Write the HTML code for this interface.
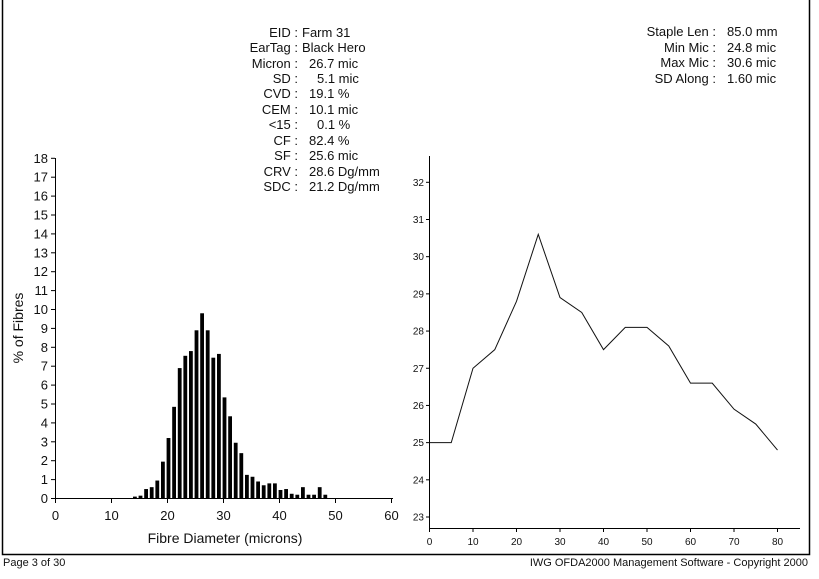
<!DOCTYPE html>
<html><head><meta charset="utf-8"><style>
body{margin:0;background:#fff;}
svg{display:block;font-family:"Liberation Sans",sans-serif;}
</style></head><body>
<svg width="819" height="579" viewBox="0 0 819 579" xmlns="http://www.w3.org/2000/svg">
<rect width="819" height="579" fill="#fff"/>
<polyline points="2.5,0 2.5,554.5 809.5,554.5 809.5,0" fill="none" stroke="#000" stroke-width="1.5"/>
<g font-size="13" fill="#111">
<g text-anchor="end">
<text x="298" y="37">EID :</text><text x="298" y="52">EarTag :</text><text x="298" y="68">Micron :</text>
<text x="298" y="83">SD :</text><text x="298" y="98">CVD :</text><text x="298" y="114">CEM :</text>
<text x="298" y="129">&lt;15 :</text><text x="298" y="145">CF :</text><text x="298" y="160">SF :</text>
<text x="298" y="176">CRV :</text><text x="298" y="191">SDC :</text>
</g>
<text x="302" y="37">Farm 31</text><text x="302" y="52">Black Hero</text><text x="309" y="68">26.7 mic</text>
<text x="317" y="83">5.1 mic</text><text x="309" y="98">19.1 %</text><text x="309" y="114">10.1 mic</text>
<text x="317" y="129">0.1 %</text><text x="309" y="145">82.4 %</text><text x="309" y="160">25.6 mic</text>
<text x="309" y="176">28.6 Dg/mm</text><text x="309" y="191">21.2 Dg/mm</text>
<g text-anchor="end">
<text x="716" y="36">Staple Len :</text><text x="716" y="52">Min Mic :</text>
<text x="716" y="67">Max Mic :</text><text x="716" y="83">SD Along :</text>
</g>
<text x="727" y="36">85.0 mm</text><text x="727" y="52">24.8 mic</text>
<text x="727" y="67">30.6 mic</text><text x="727" y="83">1.60 mic</text>
</g>
<!-- histogram -->
<g stroke="#000" stroke-width="1">
<line x1="55.5" y1="158" x2="55.5" y2="498.5"/>
<line x1="55" y1="498.5" x2="393" y2="498.5"/>
</g>
<g id="hist"></g>
<g id="yt" font-size="13" text-anchor="end" fill="#111"></g>
<g id="xt" font-size="13" text-anchor="middle" fill="#111"></g>
<text x="225" y="543" font-size="14" text-anchor="middle" fill="#111">Fibre Diameter (microns)</text>
<text transform="translate(23,328) rotate(-90)" font-size="14" text-anchor="middle" fill="#111">% of Fibres</text>
<!-- right chart -->
<g stroke="#000" stroke-width="1">
<line x1="429.5" y1="156" x2="429.5" y2="528.5"/>
<line x1="429" y1="528.5" x2="800" y2="528.5"/>
</g>
<g id="r"></g>
<text x="3" y="566" font-size="11" fill="#111">Page 3 of 30</text>
<text x="808" y="566" font-size="11" text-anchor="end" fill="#111">IWG OFDA2000 Management Software - Copyright 2000</text>
<script>
var NS="http://www.w3.org/2000/svg";
function el(p,t,a,txt){var e=document.createElementNS(NS,t);for(var k in a)e.setAttribute(k,a[k]);if(txt!=null)e.textContent=txt;document.getElementById(p).appendChild(e);}
var d={14:.1,15:.15,16:.5,17:.6,18:.95,19:1.95,20:3.2,21:4.85,22:6.9,23:7.55,24:7.8,25:8.9,26:9.8,27:8.9,28:7.45,29:7.65,30:5.35,31:4.35,32:2.95,33:2.4,34:1.25,35:1.15,36:.9,37:.7,38:.8,39:.8,40:.45,41:.5,42:.25,43:.2,44:.6,45:.2,46:.2,47:.6,48:.2};
var sx=5.6,sy=18.9,y0=498.5;
for(var k in d){var x=55+k*sx-0.4,h=d[k]*sy;el("hist","rect",{x:x,y:y0-h,width:3.8,height:h,fill:"#000"});}
for(var i=0;i<=18;i++){var y=y0-i*sy;el("hist","line",{x1:51,x2:55,y1:y,y2:y,stroke:"#000"});el("yt","text",{x:48,y:y+4.5},i);}
for(var i=0;i<=60;i+=10){var x=55.5+i*sx;el("hist","line",{x1:x,x2:x,y1:498,y2:503,stroke:"#000"});el("xt","text",{x:x,y:520},i);}
var rx=4.35,ry=37.19,rx0=429.5;function Y(v){return 182.3+(32-v)*ry;}
var rv=[25,25,27,27.5,28.8,30.6,28.9,28.5,27.5,28.1,28.1,27.6,26.6,26.6,25.9,25.5,24.8];
var pts=rv.map(function(v,i){return (rx0+i*5*rx)+","+Y(v);}).join(" ");
el("r","polyline",{points:pts,fill:"none",stroke:"#111","stroke-width":1});
for(var v=23;v<=32;v++){el("r","line",{x1:426,x2:429,y1:Y(v),y2:Y(v),stroke:"#000"});el("r","text",{x:424,y:Y(v)+3.5,"font-size":"10","text-anchor":"end",fill:"#111"},v);}
for(var i=0;i<=80;i+=10){var x=rx0+i*rx;el("r","line",{x1:x,x2:x,y1:528,y2:532,stroke:"#000"});el("r","text",{x:x,y:545,"font-size":"10","text-anchor":"middle",fill:"#111"},i);}
</script>
</svg>
</body></html>
